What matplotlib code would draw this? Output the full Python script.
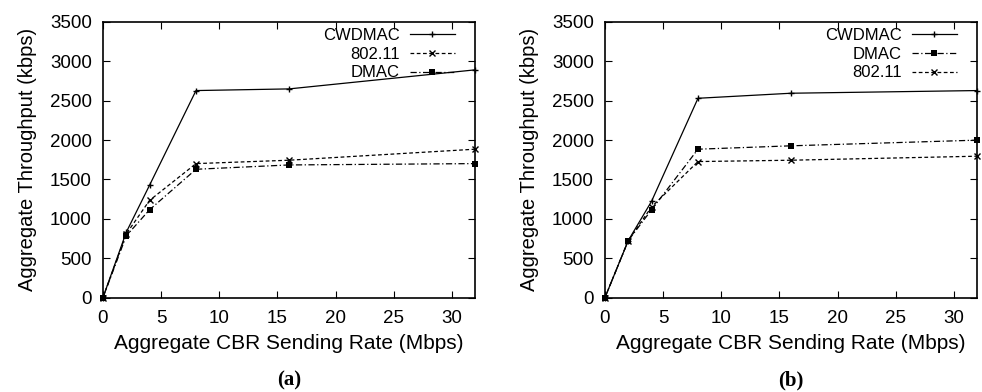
import matplotlib
matplotlib.use("Agg")
import matplotlib.pyplot as plt

x = [0, 2, 4, 8, 16, 32]
a_cwdmac = [0, 829, 1425, 2629, 2650, 2892]
a_80211 = [0, 808, 1233, 1701, 1744, 1884]
a_dmac = [0, 783, 1114, 1629, 1684, 1701]
b_cwdmac = [0, 723, 1221, 2531, 2595, 2629]
b_dmac = [0, 723, 1114, 1884, 1927, 1999]
b_80211 = [0, 723, 1150, 1727, 1744, 1795]
xticks = [0, 5, 10, 15, 20, 25, 30]
yticks = [0, 500, 1000, 1500, 2000, 2500, 3000, 3500]

plt.rcParams['font.family'] = ['Liberation Sans', 'DejaVu Sans']
W, H = 982, 392
fig = plt.figure(figsize=(W/100, H/100), dpi=100)

styles = {
    'CWDMAC': dict(ls='-', marker='+', ms=5, mew=1.0),
    '802.11': dict(ls=(0, (3, 2)), marker='x', ms=4, mew=1.0),
    'DMAC': dict(ls=(0, (5, 2, 1, 2)), marker='s', ms=4.5, mew=0),
}

def panel(left, series, tag):
    ax = fig.add_axes([left/W, (H-297.5)/H, 372/W, 275.5/H])
    for name, ys in series:
        ax.plot(x, ys, color='black', lw=0.9, label=name, clip_on=False, **styles[name])
    ax.set_xlim(0, 32)
    ax.set_ylim(0, 3500)
    ax.set_xticks(xticks)
    ax.set_yticks(yticks)
    ax.tick_params(direction='in', top=True, right=True, labelsize=13.5, length=5, width=0.8)
    ax.tick_params(axis='y', pad=8)
    ax.tick_params(axis='x', pad=9)
    for s in ax.spines.values():
        s.set_linewidth(1.2)
    ax.set_xlabel('Aggregate CBR Sending Rate (Mbps)', fontsize=15, labelpad=5)
    ax.set_ylabel('Aggregate Throughput (kbps)', fontsize=14.5, labelpad=9)
    ax.legend(loc='upper right', bbox_to_anchor=(0.946, 0.978), frameon=False,
              markerfirst=False, fontsize=12, handlelength=2.7, borderaxespad=0,
              borderpad=0, labelspacing=0.22, handletextpad=0.6)
    ax.text(0.5, -0.303, tag, transform=ax.transAxes, ha='center', va='center',
            fontsize=15, fontweight='bold', family='Liberation Serif')
    return ax

panel(103, [('CWDMAC', a_cwdmac), ('802.11', a_80211), ('DMAC', a_dmac)], '(a)')
panel(605, [('CWDMAC', b_cwdmac), ('DMAC', b_dmac), ('802.11', b_80211)], '(b)')

fig.savefig('out.png', dpi=100)
